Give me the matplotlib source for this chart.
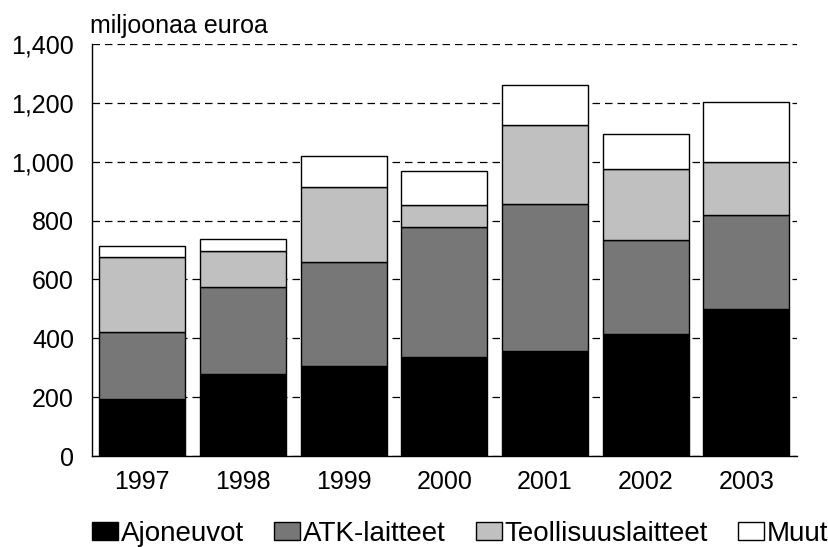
import matplotlib.pyplot as plt
import numpy as np

plt.rcParams['font.family'] = ['Liberation Sans', 'DejaVu Sans']

years = ['1997', '1998', '1999', '2000', '2001', '2002', '2003']
ajoneuvot = [193, 278, 307, 338, 358, 414, 499]
atk = [227, 297, 352, 441, 497, 319, 320]
teollisuus = [257, 120, 254, 73, 268, 242, 180]
muut = [37, 41, 106, 115, 137, 118, 202]

series = [ajoneuvot, atk, teollisuus, muut]
names = ['Ajoneuvot', 'ATK-laitteet', 'Teollisuuslaitteet', 'Muut']
colors = ['#000000', '#777777', '#c0c0c0', '#ffffff']

fig = plt.figure(figsize=(8.29, 5.47), dpi=100)
ax = fig.add_axes([0.111, 0.166, 0.850, 0.754])

x = np.arange(len(years))
bottom = np.zeros(len(years))
for vals, name, col in zip(series, names, colors):
    ax.bar(x, vals, width=0.855, bottom=bottom, color=col, edgecolor='black',
           linewidth=1.0, label=name, zorder=3)
    bottom += np.array(vals)

ax.set_xlim(-0.5, 6.5)
ax.set_ylim(0, 1400)
ax.set_yticks(range(0, 1401, 200))
ax.set_yticklabels([f'{v:,}' for v in range(0, 1401, 200)])
ax.set_xticks(x)
ax.set_xticklabels(years)
ax.tick_params(length=0, labelsize=18)
ax.tick_params(axis='y', pad=13)
ax.tick_params(axis='x', pad=10)
ax.yaxis.grid(True, color='black', linestyle=(0, (6, 4)), linewidth=0.9, zorder=0)
for s in ['top', 'right']:
    ax.spines[s].set_visible(False)
ax.spines['left'].set_linewidth(1.0)
ax.spines['bottom'].set_linewidth(1.0)

fig.text(0.109, 0.94, 'miljoonaa euroa', fontsize=18, ha='left', va='baseline')

fig.legend(loc='center left', bbox_to_anchor=(0.111, 0.024), ncol=4, frameon=False,
           fontsize=20, handlelength=0.94, handleheight=0.65, handletextpad=0.1,
           columnspacing=1.08, borderaxespad=0, borderpad=0)

fig.savefig('out.png', dpi=100)
